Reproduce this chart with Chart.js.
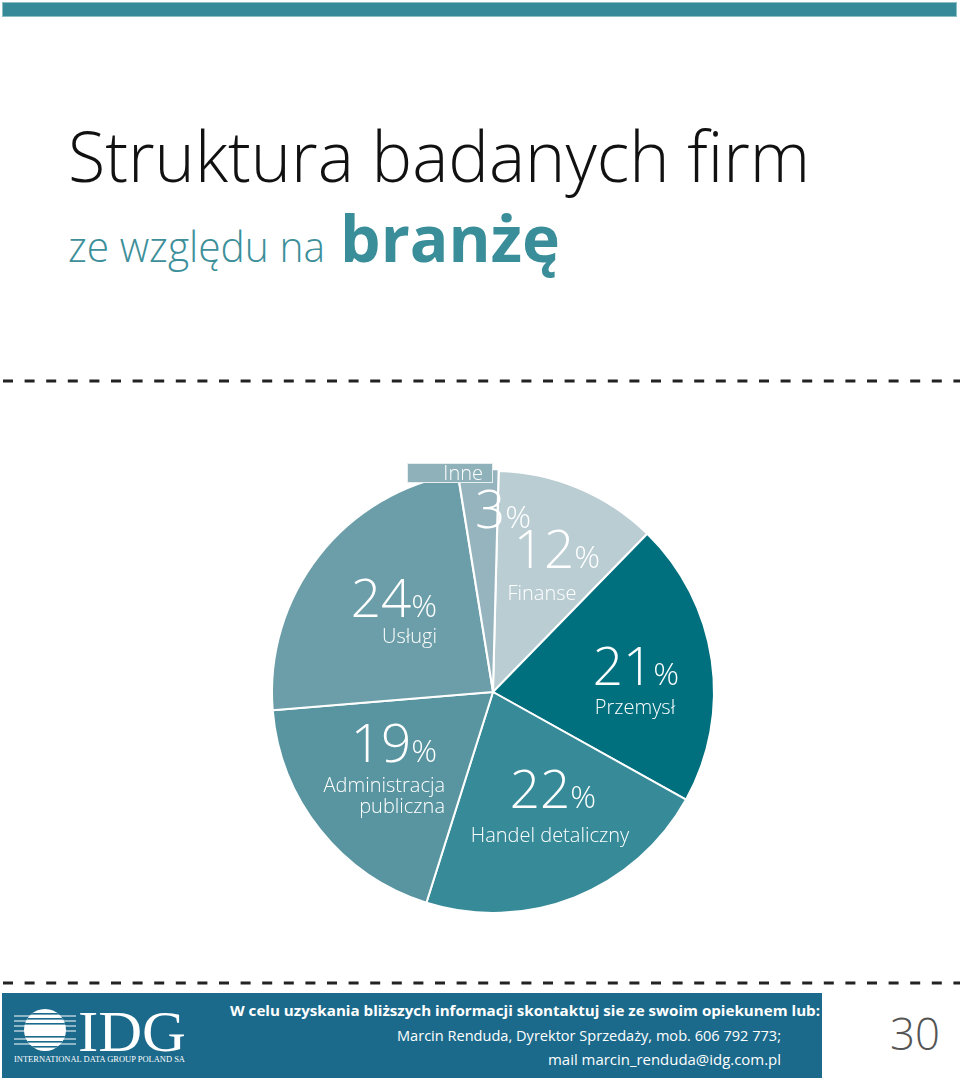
<!DOCTYPE html>
<html lang="pl">
<head>
<meta charset="utf-8">
<title>Struktura badanych firm</title>
<script src="https://cdn.jsdelivr.net/npm/chart.js@4.4.0/dist/chart.umd.min.js"></script>
<style>
    html, body { margin: 0; padding: 0; background: #fff; }
    body { width: 960px; height: 1082px; position: relative; overflow: hidden; font-family: 'Open Sans', sans-serif; }
    #page { position: absolute; left: 0; top: 0; }
    #pie { position: absolute; left: 259px; top: 458px; }
</style>
</head>
<body>
<svg id="page" width="960" height="1082" xmlns="http://www.w3.org/2000/svg">
    <!-- pasek u gory -->
    <rect x="2.5" y="2.5" width="954" height="14" fill="#378a97" stroke="#8cbfc5" stroke-width="1"/>

    <text x="68" y="182" font-family="Open Sans" font-weight="300" font-size="70" fill="#111" textLength="742" lengthAdjust="spacingAndGlyphs">Struktura badanych firm</text>
    <text x="68" y="262" font-family="Open Sans" font-weight="300" font-size="42" fill="#3d8f9a" textLength="257" lengthAdjust="spacingAndGlyphs">ze względu na</text>
    <text x="340" y="262" font-family="Open Sans" font-weight="700" font-size="64" fill="#3a8e99" textLength="220" lengthAdjust="spacingAndGlyphs">branżę</text>

    <line x1="3" y1="381" x2="960" y2="381" stroke="#222" stroke-width="3" stroke-dasharray="10 11.6"/>
    <line x1="3" y1="983" x2="960" y2="983" stroke="#222" stroke-width="3" stroke-dasharray="10 11.6"/>

    <!-- stopka -->
    <rect x="2" y="993" width="820" height="85" fill="#1b6a8b"/>
    <clipPath id="globe"><circle cx="45" cy="1030" r="21"/></clipPath>
    <g>
        <circle cx="45" cy="1030" r="21" fill="#fff"/>
        <g clip-path="url(#globe)" fill="#1b6a8b">
            <rect x="20" y="1013" width="50" height="1.6"/>
            <rect x="20" y="1018" width="50" height="1.6"/>
            <rect x="20" y="1023" width="50" height="1.6"/>
            <rect x="20" y="1036" width="50" height="1.6"/>
            <rect x="20" y="1041" width="50" height="1.6"/>
            <rect x="20" y="1046" width="50" height="1.6"/>
        </g>
        <g fill="#fff">
            <rect x="14" y="1015.5" width="62" height="1"/>
            <rect x="14" y="1020.5" width="62" height="1"/>
            <rect x="14" y="1025.5" width="62" height="1"/>
            <rect x="14" y="1030.5" width="62" height="1"/>
            <rect x="14" y="1038.5" width="62" height="1"/>
            <rect x="14" y="1043.5" width="62" height="1"/>
        </g>
        <text x="78" y="1051" font-family="Liberation Serif" font-size="56" fill="#fff" textLength="108" lengthAdjust="spacingAndGlyphs">IDG</text>
        <text x="14" y="1062" font-family="Liberation Serif" font-size="9" fill="#fff" textLength="171" lengthAdjust="spacingAndGlyphs">INTERNATIONAL DATA GROUP POLAND SA</text>
    </g>
    <text x="230" y="1016" font-family="Open Sans" font-weight="700" font-size="14" fill="#fff" textLength="590" lengthAdjust="spacingAndGlyphs">W celu uzyskania bliższych informacji skontaktuj sie ze swoim opiekunem lub:</text>
    <text x="781" y="1041" text-anchor="end" font-family="Open Sans" font-size="14" fill="#fff" textLength="384" lengthAdjust="spacingAndGlyphs">Marcin Renduda, Dyrektor Sprzedaży, mob. 606 792 773;</text>
    <text x="781" y="1065" text-anchor="end" font-family="Open Sans" font-size="14" fill="#fff" textLength="233" lengthAdjust="spacingAndGlyphs">mail marcin_renduda@idg.com.pl</text>

    <text x="890" y="1050" font-family="Open Sans" font-weight="300" font-size="44" fill="#555" textLength="50" lengthAdjust="spacingAndGlyphs">30</text>
</svg>

<canvas id="pie" width="468" height="468"></canvas>

<script>
    // Dane
    const categories = ['Finanse', 'Przemysł', 'Handel detaliczny', 'Administracja publiczna', 'Usługi', 'Inne'];
    const shares = [12, 21, 22, 19, 24, 3];
    const sliceColors = ['#bacdd3', '#00707f', '#378b98', '#5895a0', '#6b9ea8', '#96b4bd'];

    // polozenie podpisow wzgledem srodka kola
    const labelLayout = [
        { align: 'center', numX: 64, numY: -124, nameX: 49, nameY: -92 },
        { align: 'center', numX: 143, numY: -7, nameX: 142, nameY: 22 },
        { align: 'center', numX: 60, numY: 116, nameX: 57, nameY: 150 },
        { align: 'right', numX: -56, numY: 70, nameX: -48, nameY: 100, wrap: true },
        { align: 'right', numX: -56, numY: -75, nameX: -56, nameY: -49 },
        { align: 'center', numX: 10, numY: -164, boxed: true }
    ];

    const numFont = '300 53px "Open Sans"';
    const pctFont = '300 32px "Open Sans"';
    const nameFont = '300 20px "Open Sans"';

    const sliceLabels = {
        id: 'sliceLabels',
        afterDraw(chart) {
            const ctx = chart.ctx;
            const meta = chart.getDatasetMeta(0);
            const cx = meta.data[0].x;
            const cy = meta.data[0].y;
            ctx.save();
            ctx.fillStyle = '#fff';
            ctx.textBaseline = 'alphabetic';

            meta.data.forEach((arc, i) => {
                const l = labelLayout[i];
                const num = String(shares[i]);

                // liczba + znak %
                ctx.font = numFont;
                const wNum = ctx.measureText(num).width;
                ctx.font = pctFont;
                const wPct = ctx.measureText('%').width;
                let x = cx + l.numX;
                if (l.align === 'center') x -= (wNum + wPct) / 2;
                else if (l.align === 'right') x -= (wNum + wPct);
                ctx.textAlign = 'left';
                ctx.font = numFont;
                ctx.fillText(num, x, cy + l.numY);
                ctx.font = pctFont;
                ctx.fillText('%', x + wNum, cy + l.numY);

                // nazwa branzy
                ctx.font = nameFont;
                if (l.boxed) {
                    ctx.fillStyle = '#8fb1ba';
                    ctx.fillRect(cx - 86, cy - 229, 86, 20);
                    ctx.strokeStyle = '#e6eef0';
                    ctx.lineWidth = 1;
                    ctx.strokeRect(cx - 85.5, cy - 228.5, 85, 19);
                    ctx.fillStyle = '#fff';
                    ctx.textAlign = 'right';
                    ctx.fillText(categories[i], cx - 10, cy - 212);
                    return;
                }
                ctx.textAlign = l.align;
                const lines = l.wrap ? categories[i].split(' ') : [categories[i]];
                lines.forEach((line, j) => {
                    ctx.fillText(line, cx + l.nameX, cy + l.nameY + j * 21);
                });
            });
            ctx.restore();
        }
    };

    new Chart(document.getElementById('pie').getContext('2d'), {
        type: 'pie',
        data: {
            labels: categories,
            datasets: [{
                data: shares,
                backgroundColor: sliceColors,
                borderColor: '#fff',
                borderWidth: 2,
                offset: [0, 0, 0, 0, 0, 4]
            }]
        },
        options: {
            responsive: false,
            animation: false,
            rotation: 1.5,
            layout: { padding: 10 },
            plugins: {
                legend: { display: false },
                tooltip: { enabled: false }
            }
        },
        plugins: [sliceLabels]
    });
</script>
</body>
</html>
